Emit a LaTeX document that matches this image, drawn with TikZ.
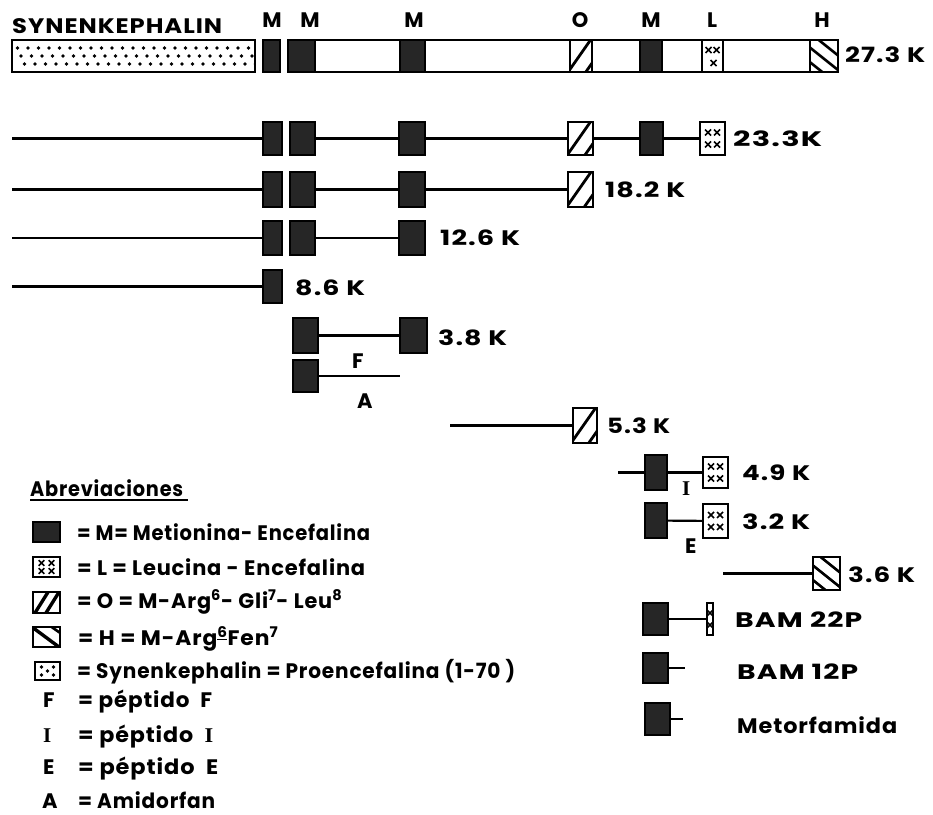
\documentclass[tikz,border=0pt]{standalone}
\usepackage{graphicx}
\usepackage{fontspec}
\setmainfont{Poppins}[LetterSpace=4]
\newfontfamily\serf{Liberation Serif}
\usetikzlibrary{calc}
\newlength\tmplen
\newcommand\fw[2]{\settowidth{\tmplen}{#2}\pgfmathsetmacro\sxf{#1/\tmplen}\scalebox{\sxf}[1]{#2}}
\newcommand\bx[6]{\node[#1, minimum width={(#4-#3)*1pt}, minimum height={(#6-#5)*1pt}] (#2) at ({(#3+#4)/2},{(#5+#6)/2}) {};}
\newcommand\xc[3]{\draw[black, line width=1.5pt] ([shift={(#1-#3,#2-#3)}]path picture bounding box.center) -- ([shift={(#1+#3,#2+#3)}]path picture bounding box.center) ([shift={(#1-#3,#2+#3)}]path picture bounding box.center) -- ([shift={(#1+#3,#2-#3)}]path picture bounding box.center);}
\newcommand\dl[5]{\draw[black, line width=#5pt] ([shift={(#1-#3,#2-#4)}]path picture bounding box.center) -- ([shift={(#1+#3,#2+#4)}]path picture bounding box.center);}
\tikzset{
  box/.style={draw, line width=1.8pt, inner sep=0pt, outer sep=0pt},
  mb/.style={box, fill=black!85},
  ob/.style={box, fill=white, path picture={\dl{-1}{-1}{14}{-20}{2.8}\dl{9}{10}{14}{-20}{2.8}}},
  hb/.style={box, fill=white, path picture={\dl{6}{-7}{30}{24}{2.6}\dl{-1}{2}{30}{24}{2.6}\dl{-8}{11}{30}{24}{2.6}}},
  lb/.style={box, fill=white, path picture={\foreach \px/\py in {-4.5/-6,4.5/-6,-4.5/6,4.5/6}{\xc{\px}{\py}{3}}}},
  ltop/.style={box, fill=white, path picture={\foreach \px/\py in {-4/-6,4/-6,1/7}{\xc{\px}{\py}{3}}}},
  nb/.style={box, fill=white, path picture={\foreach \py in {-6,6}{\xc{0}{\py}{2.5}}}},
  sb/.style={box, fill=white, path picture={\foreach \r in {0,1,2}{\foreach \i in {0,...,22}{\fill[black] ([shift={(\i*10.5-116+\r*3.5,\r*8-8)}]path picture bounding box.center) circle (1.9);}}}},
  lgo/.style={box, fill=white, path picture={\dl{-5}{0}{10}{-16}{3.4}\dl{6}{0}{10}{-16}{3.4}}},
  lgh/.style={box, fill=white, path picture={\dl{-1}{0}{27}{20}{3.4}\dl{8}{-8}{10}{7}{2.6}}},
  lgl/.style={box, fill=white, path picture={\foreach \px/\py in {-5/-4,5/-4,-5/4,5/4}{\xc{\px}{\py}{2.8}}}},
  lgs/.style={box, fill=white, path picture={\foreach \px/\py in {-6/-4,6/-4,0/0,-6/4,6/4}{\fill[black] ([shift={(\px,\py)}]path picture bounding box.center) circle (1.9);}}},
  lab/.style={anchor=base west, inner sep=0pt, font=\fontsize{21}{24}\selectfont\bfseries},
  clab/.style={lab, anchor=base},
  conn/.style={line width=2.2pt}
}
\begin{document}
\begin{tikzpicture}[x=1pt, y=-1pt]
\fill[white] (0,0) rectangle (933,814);
\useasboundingbox (0,0) rectangle (933,814);

% ---- top bar ----
\node[lab] (tsyn) at (12,33) {\fw{210}{SYNENKEPHALIN}};
\node[clab] (tlM1) at (272,27) {M};
\node[clab] (tlM2) at (310,27) {M};
\node[clab] (tlM3) at (414,27) {M};
\node[clab] (tlO) at (580,27) {O};
\node[clab] (tlM4) at (651,27) {M};
\node[clab] (tlL) at (712,27) {L};
\node[clab] (tlH) at (822,27) {H};
\bx{sb}{syn}{12}{255}{40}{72}
\bx{mb}{tM1}{263}{280}{40}{72}
\bx{box}{bar}{288}{838}{40}{72}
\bx{mb}{tM2}{288}{315}{40}{72}
\bx{mb}{tM3}{400}{425}{40}{72}
\bx{ob}{tO}{570}{592}{40}{72}
\bx{mb}{tM4}{640}{662}{40}{72}
\bx{ltop}{tL}{702}{723}{40}{72}
\bx{hb}{tH}{810}{838}{40}{72}
\node[lab] (k273) at (845,62) {\fw{80}{27.3 K}};

% ---- 23.3K ----
\coordinate (r2s) at (12,138.5);
\bx{mb}{r2a}{263}{282}{122}{155}
\bx{mb}{r2b}{290}{315}{122}{155}
\bx{mb}{r2c}{399}{425}{122}{155}
\bx{ob}{r2d}{568}{593}{122}{155}
\bx{mb}{r2e}{640}{663}{122}{155}
\bx{lb}{r2f}{700}{725}{122}{155}
\node[lab] (k233) at (733,146) {\fw{89}{23.3K}};
\draw[conn] (r2s) -- (r2a) (r2b) -- (r2c) (r2c) -- (r2d) (r2d) -- (r2e) (r2e) -- (r2f);

% ---- 18.2K ----
\coordinate (r3s) at (12,189.5);
\bx{mb}{r3a}{263}{282}{172}{207}
\bx{mb}{r3b}{290}{315}{172}{207}
\bx{mb}{r3c}{399}{425}{172}{207}
\bx{ob}{r3d}{568}{593}{172}{207}
\node[lab] (k182) at (605,197.5) {\fw{80}{18.2 K}};
\draw[conn] (r3s) -- (r3a) (r3b) -- (r3c) (r3c) -- (r3d);

% ---- 12.6K ----
\coordinate (r4s) at (12,238);
\bx{mb}{r4a}{263}{282}{221}{255}
\bx{mb}{r4b}{290}{315}{221}{255}
\bx{mb}{r4c}{399}{425}{221}{255}
\node[lab] (k126) at (440,245.5) {\fw{80}{12.6 K}};
\draw[conn] (r4s) -- (r4a) (r4b) -- (r4c);

% ---- 8.6K ----
\coordinate (r5s) at (12,286.5);
\bx{mb}{r5a}{263}{282}{270}{303}
\node[lab] (k86) at (295,295) {\fw{70}{8.6 K}};
\draw[conn] (r5s) -- (r5a);

% ---- 3.8K / F / A ----
\bx{mb}{r6a}{293}{318}{318}{353}
\bx{mb}{r6b}{400}{427}{318}{353}
\node[lab] (k38) at (438,345) {\fw{69}{3.8 K}};
\draw[conn] (r6a) -- (r6b);
\node[lab] (lF) at (352,368) {F};
\bx{mb}{r7a}{293}{318}{360}{392}
\coordinate (r7e) at (400,376);
\draw[conn] (r7a) -- (r7e);
\node[lab] (lA) at (357,408) {A};

% ---- 5.3K ----
\coordinate (r8s) at (450,425.5);
\bx{ob}{r8a}{573}{597}{408}{443}
\node[lab] (k53) at (607,433) {\fw{63}{5.3 K}};
\draw[conn] (r8s) -- (r8a);

% ---- 4.9K / I ----
\coordinate (r9s) at (618,472.5);
\bx{mb}{r9a}{645}{667}{455}{490}
\bx{lb}{r9b}{703}{728}{457}{488}
\node[lab] (k49) at (742,480) {\fw{68}{4.9 K}};
\draw[conn] (r9s) -- (r9a) (r9a) -- (r9b);
\node[lab] (lI) at (682,495) {\serf\bfseries I};

% ---- 3.2K / E ----
\bx{mb}{r10a}{645}{667}{503}{538}
\bx{lb}{r10b}{703}{728}{504}{538}
\node[lab] (k32) at (742,529) {\fw{68}{3.2 K}};
\draw[conn] (r10a) -- (r10b);
\node[lab] (lE) at (685,553) {E};

% ---- 3.6K ----
\coordinate (r11s) at (723,573.5);
\bx{hb}{r11a}{813}{840}{557}{590}
\node[lab] (k36) at (848,582) {\fw{67}{3.6 K}};
\draw[conn] (r11s) -- (r11a);

% ---- BAM 22P ----
\bx{mb}{r12a}{643}{668}{603}{635}
\bx{nb}{r12b}{707}{713}{603}{635}
\node[lab] (b22) at (735,627) {\fw{127}{BAM 22P}};
\draw[conn] (r12a) -- (r12b);

% ---- BAM 12P ----
\bx{mb}{r13a}{643}{668}{653}{683}
\coordinate (r13e) at (685,668);
\node[lab] (b12) at (737,679) {\fw{121}{BAM 12P}};
\draw[conn] (r13a) -- (r13e);

% ---- Metorfamida ----
\bx{mb}{r14a}{645}{670}{703}{735}
\coordinate (r14e) at (683,719);
\node[lab] (met) at (737,733) {\fw{160}{Metorfamida}};
\draw[conn] (r14a) -- (r14e);

% ---- legend ----
\node[lab] (abr) at (30,496) {\fw{153}{Abreviaciones}};
\draw[line width=1.8pt] ([yshift=-4pt]abr.base west) -- ([yshift=-4pt,xshift=5pt]abr.base east);
\bx{mb}{lgM}{33}{60}{522}{542}
\bx{lgl}{lgL}{33}{60}{557}{577}
\bx{lgo}{lgO}{33}{60}{592}{613}
\bx{lgh}{lgH}{33}{60}{627}{647}
\bx{lgs}{lgS}{35}{60}{662}{680}
\node[lab] (tM) at (77,540) {\fw{293}{= M= Metionina- Encefalina}};
\node[lab] (tL) at (77,575) {\fw{288}{= L = Leucina - Encefalina}};
\node[lab] (tO) at (77,608) {\fw{265}{= O = M-Arg\textsuperscript{6}- Gli\textsuperscript{7}- Leu\textsuperscript{8}}};
\node[lab] (tH) at (78,645) {\fw{200}{= H = M-Arg\textsuperscript{\underline{6}}Fen\textsuperscript{7}}};
\node[lab] (tS) at (77,678) {\fw{438}{= Synenkephalin = Proencefalina (1-70 )}};
\node[lab] (kF) at (43,707) {F};
\node[lab] (tF) at (78,707) {\fw{134}{= péptido \ F}};
\node[lab] (kI) at (43,742) {\serf\bfseries I};
\node[lab] (tI) at (78,742) {\fw{135}{= péptido \ {\serf\bfseries I}}};
\node[lab] (kE) at (43,774) {E};
\node[lab] (tE) at (78,774) {\fw{140}{= péptido \ E}};
\node[lab] (kA) at (42,808) {A};
\node[lab] (tA) at (78,808) {\fw{137}{= Amidorfan}};
\end{tikzpicture}
\end{document}
